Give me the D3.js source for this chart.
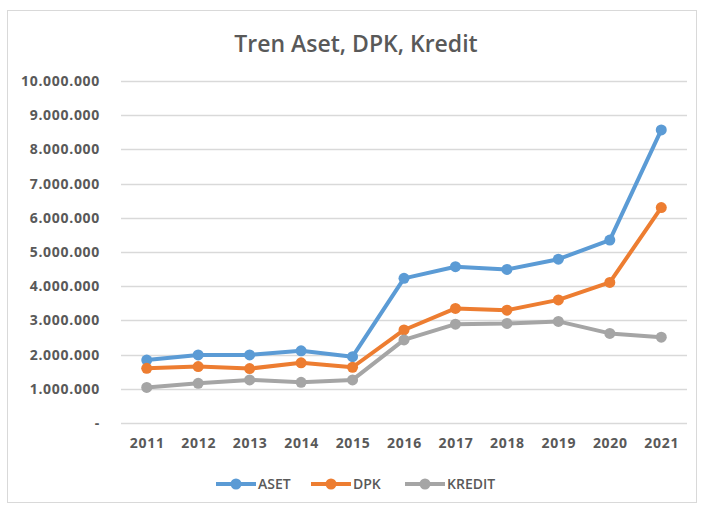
<!DOCTYPE html>
<html lang="id">
<head>
    <meta charset="UTF-8">
    <title>Tren Aset, DPK, Kredit</title>
    <script src="https://d3js.org/d3.v7.min.js"></script>
    <style>
        body {
            margin: 0;
            padding: 0;
            background-color: white;
            font-family: 'Open Sans', 'Noto Sans', sans-serif;
        }
        svg { display: block; }
    </style>
</head>
<body>
    <svg width="703" height="506"></svg>

    <script>
        // chart data
        const years = ["2011", "2012", "2013", "2014", "2015", "2016", "2017", "2018", "2019", "2020", "2021"];
        const aset   = [1840000, 1990000, 1990000, 2110000, 1940000, 4230000, 4570000, 4490000, 4790000, 5350000, 8570000];
        const dpk    = [1600000, 1650000, 1590000, 1760000, 1630000, 2720000, 3350000, 3300000, 3600000, 4110000, 6300000];
        const kredit = [1040000, 1160000, 1260000, 1190000, 1260000, 2430000, 2890000, 2910000, 2970000, 2620000, 2510000];
        const yTicks = [0, 1000000, 2000000, 3000000, 4000000, 5000000, 6000000, 7000000, 8000000, 9000000, 10000000];

        const seriesNames = ["ASET", "DPK", "KREDIT"];
        const seriesValues = [aset, dpk, kredit];
        const colors = ["#5b9bd5", "#ed7d31", "#a5a5a5"];

        const svg = d3.select("svg"),
              margin = {top: 81, right: 16, bottom: 83, left: 121},
              width = +svg.attr("width") - margin.left - margin.right,
              height = +svg.attr("height") - margin.top - margin.bottom;

        // outer frame
        svg.append("rect")
            .attr("x", 7.5).attr("y", 10.5)
            .attr("width", 689).attr("height", 492)
            .attr("fill", "white")
            .attr("stroke", "#d9d9d9");

        svg.append("text")
            .attr("x", 356).attr("y", 52)
            .attr("text-anchor", "middle")
            .attr("fill", "#595959")
            .style("font-size", "23px")
            .style("font-weight", "600")
            .text("Tren Aset, DPK, Kredit");

        const g = svg.append("g").attr("transform", `translate(${margin.left},${margin.top})`);

        const x = d3.scalePoint().domain(years).range([0, width]).padding(0.5);
        const y = d3.scaleLinear().domain([0, 10000000]).range([height, 0]);

        const loc = d3.formatLocale({decimal: ",", thousands: ".", grouping: [3], currency: ["Rp", ""]});
        const fmt = loc.format(",.0f");

        // gridlines
        g.append("g")
            .selectAll("line")
            .data(yTicks)
            .enter().append("line")
            .attr("x1", 0).attr("x2", width)
            .attr("y1", d => Math.round(y(d)) + 0.5)
            .attr("y2", d => Math.round(y(d)) + 0.5)
            .attr("stroke", "#d9d9d9")
            .attr("stroke-width", 1.3);

        const yAxis = g.append("g")
            .attr("transform", "translate(-18,0)")
            .call(d3.axisLeft(y).tickValues(yTicks).tickSize(0).tickFormat(d => d === 0 ? "-  " : fmt(d)));
        yAxis.select(".domain").remove();

        const xAxis = g.append("g")
            .attr("transform", `translate(0,${height + 12})`)
            .call(d3.axisBottom(x).tickSize(0));
        xAxis.select(".domain").remove();

        [yAxis, xAxis].forEach(ax => {
            ax.attr("font-family", "'Open Sans', sans-serif")
              .attr("font-size", 14)
              .attr("font-weight", "bold")
              .attr("letter-spacing", "0.7px");
            ax.selectAll("text").attr("fill", "#595959");
        });

        seriesValues.forEach((vals, i) => {
            const line = d3.line()
                .x((d, j) => x(years[j]))
                .y(d => y(d));

            g.append("path")
                .datum(vals)
                .attr("d", line)
                .attr("fill", "none")
                .attr("stroke", colors[i])
                .attr("stroke-width", 4)
                .attr("stroke-linejoin", "round");

            g.selectAll(".dot" + i)
                .data(vals)
                .enter().append("circle")
                .attr("cx", (d, j) => x(years[j]))
                .attr("cy", d => y(d))
                .attr("r", 5.5)
                .attr("fill", colors[i]);
        });

        // legend
        const legendX = [216, 311, 405];
        const legend = svg.append("g").attr("transform", "translate(0,484)");
        seriesNames.forEach((name, i) => {
            const lg = legend.append("g").attr("transform", `translate(${legendX[i]},0)`);
            lg.append("line")
                .attr("x1", 0).attr("x2", 40)
                .attr("stroke", colors[i])
                .attr("stroke-width", 4);
            lg.append("circle")
                .attr("cx", 20).attr("r", 5.5)
                .attr("fill", colors[i]);
            lg.append("text")
                .attr("x", 42).attr("dy", "0.35em")
                .attr("fill", "#595959")
                .style("font-size", "14px")
                .style("font-weight", "600")
                .text(name);
        });
    </script>
</body>
</html>
